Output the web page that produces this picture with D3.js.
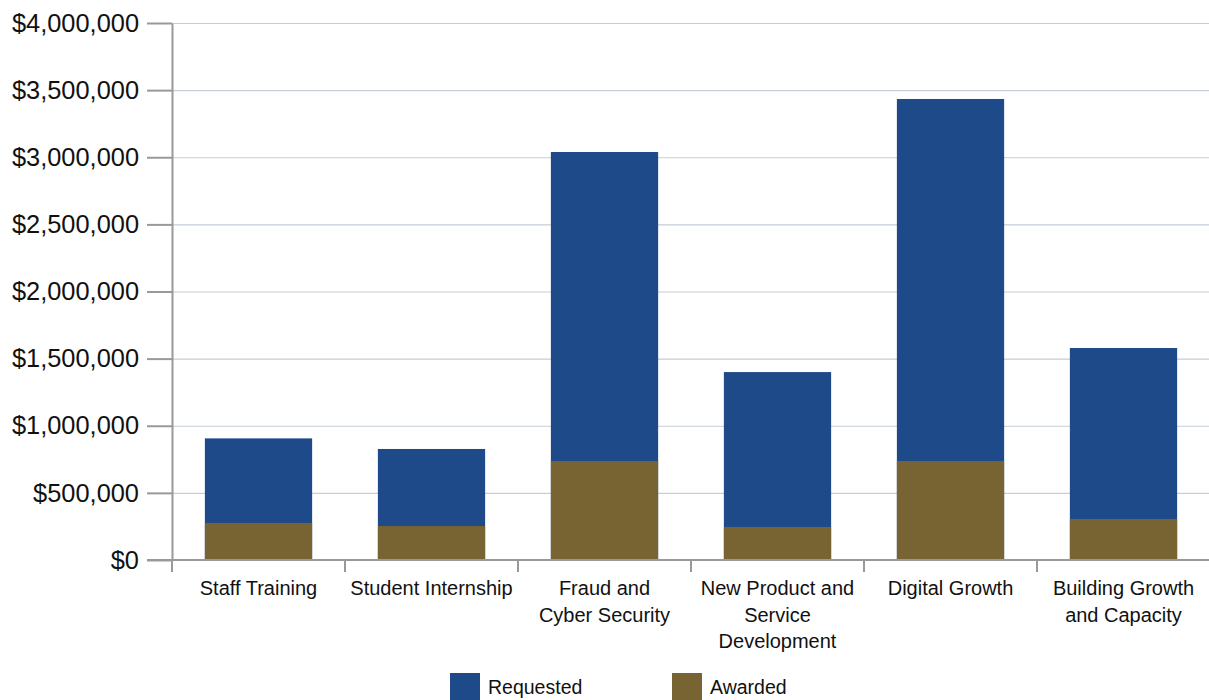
<!DOCTYPE html>
<html><head><meta charset="utf-8">
<script src="https://cdn.jsdelivr.net/npm/d3@7"></script>
<style>body{margin:0;background:#fff}svg{display:block}</style>
</head><body>
<svg id="chart" width="1209" height="700"></svg>
<script>
const categories = ["Staff Training", "Student Internship", "Fraud and Cyber Security", "New Product and Service Development", "Digital Growth", "Building Growth and Capacity"];
const categoryLines = [["Staff Training"], ["Student Internship"], ["Fraud and", "Cyber Security"], ["New Product and", "Service", "Development"], ["Digital Growth"], ["Building Growth", "and Capacity"]];
const requested = [906000, 827000, 3039000, 1400000, 3434000, 1579000];
const awarded = [276000, 253000, 737000, 246000, 737000, 305000];
const yTicks = [0, 500000, 1000000, 1500000, 2000000, 2500000, 3000000, 3500000, 4000000];
const seriesNames = ["Requested", "Awarded"];
const colors = ["#1f4a8a", "#786432"];

const svg = d3.select("#chart");
const font = "'Liberation Sans', Arial, Helvetica, sans-serif";
const mLeft = 172, mRight = 1210, mTop = 23, mBottom = 560;

const x = d3.scaleBand().domain(categories).range([mLeft, mRight]).padding(0);
const y = d3.scaleLinear().domain([0, 4000000]).range([mBottom, mTop]);
const barW = x.bandwidth() * 0.62;

// gridlines
svg.append("g").selectAll("line").data(yTicks.filter(d => d > 0)).join("line")
  .attr("x1", mLeft).attr("x2", 1209)
  .attr("y1", d => y(d) + 0.5).attr("y2", d => y(d) + 0.5)
  .attr("stroke", "#c5cdd6").attr("stroke-width", 1.2);

// bars
const bars = svg.append("g");
bars.selectAll("rect.req").data(categories).join("rect").attr("class", "req")
  .attr("x", d => x(d) + (x.bandwidth() - barW) / 2)
  .attr("width", barW)
  .attr("y", (d, i) => y(requested[i]))
  .attr("height", (d, i) => y(0) - y(requested[i]))
  .attr("fill", colors[0]);
bars.selectAll("rect.awd").data(categories).join("rect").attr("class", "awd")
  .attr("x", d => x(d) + (x.bandwidth() - barW) / 2)
  .attr("width", barW)
  .attr("y", (d, i) => y(awarded[i]))
  .attr("height", (d, i) => y(0) - y(awarded[i]))
  .attr("fill", colors[1]);

// y axis
const fmt = d => "$" + d3.format(",")(d);
const yAxis = svg.append("g").attr("transform", `translate(${mLeft},0)`)
  .call(d3.axisLeft(y).tickValues(yTicks).tickFormat(fmt).tickSize(25).tickPadding(8).tickSizeOuter(0));
yAxis.select(".domain").attr("stroke", "#999").attr("stroke-width", 2);
yAxis.selectAll(".tick line").attr("stroke", "#999").attr("stroke-width", 2);
yAxis.selectAll(".tick text").attr("font-family", font).attr("font-size", 25.4).attr("fill", "#111");

// x axis
const xAxis = svg.append("g").attr("transform", `translate(0,${mBottom})`);
xAxis.append("line").attr("x1", mLeft - 25).attr("x2", 1209).attr("y1", 0).attr("y2", 0)
  .attr("stroke", "#999").attr("stroke-width", 2);
xAxis.selectAll("line.tk").data(categories).join("line").attr("class", "tk")
  .attr("x1", d => x(d)).attr("x2", d => x(d)).attr("y1", 0).attr("y2", 12)
  .attr("stroke", "#999").attr("stroke-width", 2);
const labels = xAxis.selectAll("text").data(categories).join("text")
  .attr("font-family", font).attr("font-size", 20).attr("fill", "#111")
  .attr("text-anchor", "middle");
labels.each(function(d, i) {
  d3.select(this).selectAll("tspan").data(categoryLines[i]).join("tspan")
    .attr("x", x(d) + x.bandwidth() / 2)
    .attr("y", (t, j) => 35 + j * 26.5)
    .text(t => t);
});

// legend
const legendX = [450, 672];
const lg = svg.append("g");
seriesNames.forEach((s, i) => {
  lg.append("rect").attr("x", legendX[i]).attr("y", 673).attr("width", 30).attr("height", 30).attr("fill", colors[i]);
  lg.append("text").attr("x", legendX[i] + 38).attr("y", 694).attr("font-family", font).attr("font-size", 19.5).attr("fill", "#111").text(s);
});
</script>
</body></html>
